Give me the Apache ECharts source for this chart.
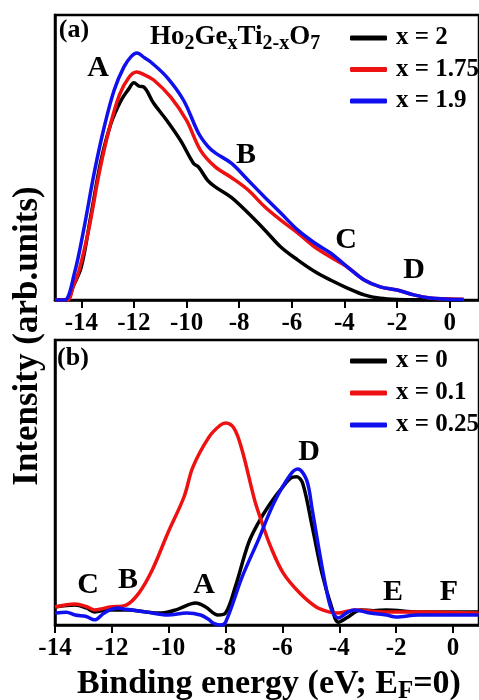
<!DOCTYPE html>
<html><head><meta charset="utf-8">
<script src="https://cdn.jsdelivr.net/npm/echarts@6/dist/echarts.min.js"></script>
<style>html,body{margin:0;padding:0;background:#fff}#c{width:479px;height:700px}</style>
</head><body><div id="c"></div>
<script>
// ---- data (binding energy eV, intensity arb. units) ----
const topTicks = [-14,-12,-10,-8,-6,-4,-2,0];
const bottomTicks = [-14,-12,-10,-8,-6,-4,-2,0];
const topNames = ['x = 2','x = 1.75','x = 1.9'];
const bottomNames = ['x = 0','x = 0.1','x = 0.25'];

const topBlack = [[-15,0],[-14.57,0],[-14.3,0.05],[-14.0,0.116],[-13.62,0.305],[-13.25,0.49],[-12.87,0.62],[-12.49,0.70],[-12.2,0.74],[-12.0,0.762],[-11.8,0.75],[-11.62,0.747],[-11.25,0.69],[-10.75,0.63],[-10.23,0.56],[-9.74,0.48],[-9.55,0.467],[-9.2,0.42],[-8.91,0.397],[-8.3,0.36],[-7.66,0.305],[-7.02,0.245],[-6.42,0.186],[-5.77,0.14],[-5.13,0.10],[-4.53,0.07],[-3.89,0.042],[-3.25,0.018],[-2.64,0.006],[-2.0,0.002],[-1,0.001],[0.5,0]];
const topRed = [[-15,0],[-14.53,0],[-14.3,0.05],[-14.08,0.105],[-13.7,0.256],[-13.32,0.446],[-12.94,0.60],[-12.55,0.72],[-12.2,0.78],[-11.9,0.80],[-11.6,0.79],[-11.25,0.772],[-10.6,0.712],[-10.0,0.63],[-9.47,0.525],[-8.91,0.467],[-8.3,0.43],[-7.66,0.386],[-7.02,0.326],[-6.42,0.28],[-5.77,0.235],[-5.13,0.186],[-4.53,0.151],[-3.89,0.116],[-3.25,0.07],[-2.64,0.046],[-2.0,0.035],[-1.36,0.018],[-0.75,0.007],[-0.11,0.004],[0.53,0.003]];
const topBlue = [[-15,0],[-14.64,0],[-14.26,0.095],[-13.89,0.256],[-13.51,0.446],[-13.13,0.607],[-12.75,0.737],[-12.38,0.818],[-12.1,0.855],[-11.89,0.867],[-11.6,0.85],[-11.36,0.835],[-10.75,0.782],[-10.11,0.70],[-9.55,0.586],[-9.2,0.54],[-8.91,0.516],[-8.3,0.48],[-7.66,0.42],[-7.02,0.36],[-6.42,0.305],[-5.77,0.245],[-5.13,0.20],[-4.53,0.165],[-3.89,0.116],[-3.25,0.07],[-2.64,0.046],[-2.0,0.035],[-1.36,0.018],[-0.75,0.007],[-0.11,0.003],[0.53,0.002]];

const botBlack = [[-14,0.063],[-13.29,0.07],[-12.9,0.06],[-12.61,0.046],[-12.07,0.053],[-11.39,0.053],[-10.81,0.046],[-10.24,0.042],[-9.69,0.055],[-9.05,0.077],[-8.7,0.063],[-8.27,0.035],[-8.0,0.042],[-7.66,0.133],[-7.19,0.288],[-6.85,0.358],[-6.51,0.414],[-6.07,0.474],[-5.63,0.519],[-5.5,0.52],[-5.29,0.498],[-4.95,0.344],[-4.61,0.182],[-4.27,0.063],[-4.03,0.01],[-3.69,0.028],[-3.25,0.053],[-2.8,0.05],[-2.34,0.053],[-1.22,0.046],[0.9,0.046]];
const botRed = [[-14,0.063],[-13.29,0.074],[-12.9,0.065],[-12.61,0.053],[-12.07,0.063],[-11.5,0.07],[-11.05,0.112],[-10.58,0.193],[-10.03,0.323],[-9.46,0.45],[-9.15,0.554],[-8.58,0.66],[-8.2,0.70],[-8.0,0.709],[-7.7,0.69],[-7.42,0.614],[-6.98,0.439],[-6.75,0.368],[-6.41,0.274],[-5.97,0.182],[-5.39,0.112],[-4.81,0.063],[-4.37,0.046],[-4.03,0.042],[-3.46,0.053],[-2.34,0.046],[-1.22,0.046],[0.9,0.042]];
const botBlue = [[-14,0.042],[-13.6,0.045],[-13.29,0.035],[-12.9,0.03],[-12.61,0.018],[-12.3,0.04],[-12.07,0.053],[-11.8,0.06],[-11.5,0.055],[-10.81,0.046],[-10.03,0.035],[-9.36,0.042],[-8.88,0.035],[-8.6,0.02],[-8.44,0.007],[-8.2,0.0],[-8.0,0.01],[-7.42,0.168],[-6.85,0.298],[-6.3,0.428],[-5.73,0.526],[-5.46,0.547],[-5.15,0.509],[-4.95,0.404],[-4.71,0.263],[-4.47,0.133],[-4.27,0.053],[-4.03,0.025],[-3.7,0.045],[-3.46,0.053],[-2.92,0.042],[-2.34,0.035],[-2.0,0.028],[-1.22,0.035],[0.9,0.035]];

const topPeaks = [['A',98,68],['B',246,155],['C',346,240],['D',414,270]];
const botPeaks = [['D',309,452],['C',88,585],['B',128,580],['A',204,585],['E',393,592],['F',449,592]];

// ---- chart ----
const FF = '"Liberation Serif", "Times New Roman", serif';
const BLACK = '#000000', RED = '#ee1111', BLUE = '#1010ee';
const chart = echarts.init(document.getElementById('c'), null, {renderer:'canvas'});

function xAxisCfg(gi, min, max, ticks){
  return {
    type:'value', gridIndex:gi, min:min, max:max,
    axisLine:{show:true, onZero:false, lineStyle:{color:'#000', width:2.5}},
    axisTick:{show:true, length:8, inside:false, lineStyle:{color:'#000', width:2}, customValues:ticks},
    axisLabel:{show:true, margin:11, color:'#000', fontFamily:FF, fontWeight:'bold', fontSize:25, customValues:ticks},
    splitLine:{show:false}
  };
}
function yAxisCfg(gi){
  return {type:'value', gridIndex:gi, min:0, max:1,
    axisLine:{show:true, onZero:false, lineStyle:{color:'#000', width:2.5}},
    axisTick:{show:false}, axisLabel:{show:false}, splitLine:{show:false}};
}
function ser(name, data, color, xi){
  return {type:'line', name:name, data:data, xAxisIndex:xi, yAxisIndex:xi,
    showSymbol:false, smooth:0.35, lineStyle:{color:color, width:3.5}, itemStyle:{color:color}, animation:false};
}
function legendCfg(names, top, gap){
  return {data:names, orient:'vertical', left:345, top:top, itemWidth:37, itemHeight:5, itemGap:gap,
    icon:'roundRect', textStyle:{fontFamily:FF, fontWeight:'bold', fontSize:25, color:'#000', padding:[0,0,0,4], lineHeight:25}};
}
const txt = (t, x, y, size) => ({type:'text', x:x, y:y, z:100,
  style:{text:t, font:'bold '+size+'px '+FF, fill:'#000', align:'center', verticalAlign:'middle'}});

const graphics = [];
topPeaks.forEach(p => graphics.push(txt(p[0], p[1], p[2], 30)));
botPeaks.forEach(p => graphics.push(txt(p[0], p[1], p[2], 30)));
graphics.push(txt('(a)', 74, 30, 26));
graphics.push(txt('(b)', 73, 358, 26));
graphics.push({type:'text', x:150, y:37, z:100, style:{
  text:'{m|Ho}{s|2}{m|Ge}{s|x}{m|Ti}{s|2-x}{m|O}{s|7}',
  align:'left', verticalAlign:'middle',
  rich:{ m:{font:'bold 27px '+FF, fill:'#000', lineHeight:34, verticalAlign:'middle'},
         s:{font:'bold 20px '+FF, fill:'#000', lineHeight:34, verticalAlign:'bottom'} }
}});
graphics.push({type:'text', x:269, y:684, z:100, style:{
  text:'{m|Binding energy (eV; E}{s|F}{m|=0)}',
  align:'center', verticalAlign:'middle',
  rich:{ m:{font:'bold 34px '+FF, fill:'#000', lineHeight:40, verticalAlign:'middle'},
         s:{font:'bold 25px '+FF, fill:'#000', lineHeight:40, verticalAlign:'bottom'} }
}});
graphics.push({type:'text', x:28, y:336, rotation:Math.PI/2, z:100, style:{
  text:'Intensity (arb.units)', font:'bold 35px '+FF, fill:'#000', align:'center', verticalAlign:'middle'}});

chart.setOption({
  animation:false,
  backgroundColor:'#ffffff',
  grid:[
    {left:55, top:15, width:427, height:285, show:true, borderColor:'#000', borderWidth:2.5},
    {left:55, top:340, width:440, height:285, show:true, borderColor:'#000', borderWidth:2.5}
  ],
  xAxis:[xAxisCfg(0, -15, -15+427/26.5, topTicks), xAxisCfg(1, -14, -14+440/29.5, bottomTicks)],
  yAxis:[yAxisCfg(0), yAxisCfg(1)],
  legend:[legendCfg(topNames, 20.5, 6.5), legendCfg(bottomNames, 343.5, 7)],
  series:[
    ser(topNames[0], topBlack, BLACK, 0), ser(topNames[1], topRed, RED, 0), ser(topNames[2], topBlue, BLUE, 0),
    ser(bottomNames[0], botBlack, BLACK, 1), ser(bottomNames[1], botRed, RED, 1), ser(bottomNames[2], botBlue, BLUE, 1)
  ],
  graphic:graphics
});
</script></body></html>
